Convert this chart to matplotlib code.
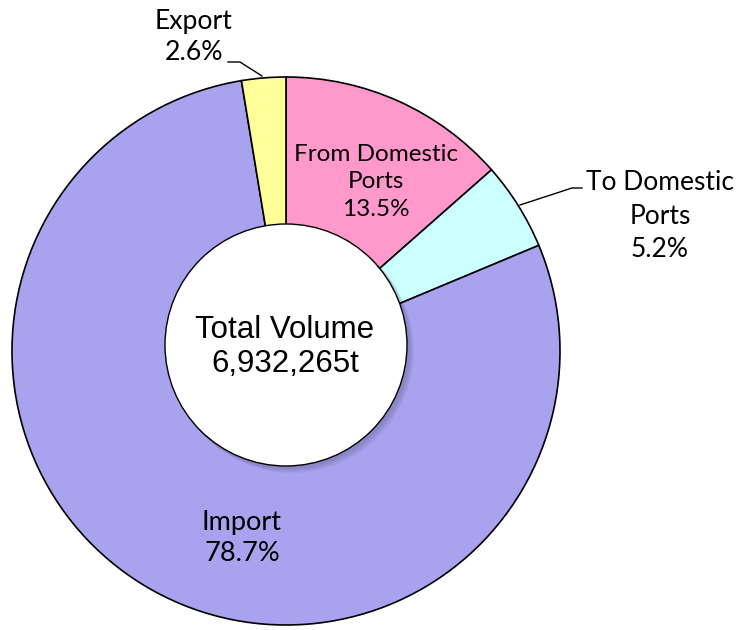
import matplotlib.pyplot as plt
from matplotlib.patches import Circle

# ── data
labels = ['From Domestic\nPorts', 'To Domestic\nPorts', 'Import', 'Export']
shares = [13.5, 5.2, 78.7, 2.6]
colors = ['#FF99CC', '#CCFFFF', '#A9A2EE', '#FFFF99']
total_text = 'Total Volume\n6,932,265t'

W, H = 738, 630
fig = plt.figure(figsize=(W / 100, H / 100), dpi=100)
ax = fig.add_axes([0, 0, 1, 1])

# ── pie (pixel coords, y measured from top -> flip)
cx, cy, r = 286, H - 351, 274
ax.pie(shares, colors=colors, startangle=90, counterclock=False,
       center=(cx, cy), radius=r, frame=True,
       wedgeprops=dict(edgecolor='black', linewidth=1.2))
ax.set_xlim(0, W)
ax.set_ylim(0, H)
ax.set_aspect('equal')
ax.axis('off')

# ── centre hole with soft shadow
hx, hy, hr = 286, H - 345, 121
for i in range(5):
    ax.add_patch(Circle((hx + 2 + i, hy - 2 - i), hr + 1, color='#303050',
                        alpha=0.05, lw=0, zorder=3))
ax.add_patch(Circle((hx, hy), hr, facecolor='white', edgecolor='black',
                    linewidth=1.0, zorder=4))
ax.text(285, H - 347, total_text, ha='center', va='center', fontsize=22.5,
        family='Liberation Sans', linespacing=1.15, zorder=5)

# ── slice labels
lab_font = 'Lato'
ax.text(376, H - 182, f'{labels[0]}\n{shares[0]}%', ha='center', va='center',
        fontsize=17.5, family=lab_font, linespacing=1.37)
ax.text(660, H - 216, f'{labels[1]}\n{shares[1]}%', ha='center', va='center',
        fontsize=19, family=lab_font, linespacing=1.42)
ax.text(242, H - 538, f'{labels[2]}\n{shares[2]}%', ha='center', va='center',
        fontsize=19.5, family=lab_font, linespacing=1.34)
ax.text(194, H - 37, f'{labels[3]}\n{shares[3]}%', ha='center', va='center',
        fontsize=19.2, family=lab_font, linespacing=1.32)

# leader lines
ax.plot([262, 240, 228], [H - 76, H - 62, H - 62], color='black', lw=1.0)
ax.plot([520, 572, 582], [H - 205, H - 188, H - 188], color='black', lw=1.0)

fig.savefig('out.png', dpi=100)
